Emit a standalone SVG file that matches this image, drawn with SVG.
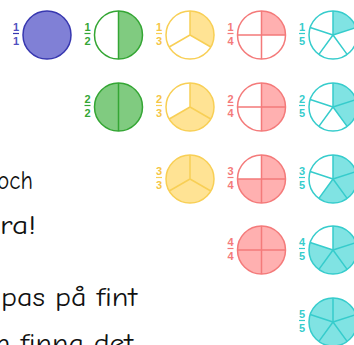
<svg xmlns="http://www.w3.org/2000/svg" width="354" height="345" viewBox="0 0 354 345">
<style>
.bg{fill:#fff}
.ol{fill:none;stroke-width:1.5}
.ln{stroke-width:1.5;fill:none}
.lb{font-family:"Liberation Sans",Arial,sans-serif;font-size:11px;font-weight:bold;text-anchor:middle}
.bar{stroke-width:1.2}
.p .f{fill:#8080d6}.p .ol,.p .ln,.p .bar{stroke:#3737b0}.p .lb{fill:#5050c0}
.g .f{fill:#80cb80}.g .ol,.g .ln,.g .bar{stroke:#34a634}.g .lb{fill:#34a634}
.y .f{fill:#ffe394}.y .ol,.y .ln,.y .bar{stroke:#f8cf55}.y .lb{fill:#f5c545}
.r .f{fill:#ffb0b0}.r .ol,.r .ln,.r .bar{stroke:#f47a7a}.r .lb{fill:#f47a7a}
.c .f{fill:#80e3e3}.c .ol,.c .ln,.c .bar{stroke:#36cccc}.c .lb{fill:#36cccc}
.txt{font-family:"Comic Sans MS","Comic Neue","DejaVu Sans",sans-serif;font-size:27px;fill:#111}
</style>
<g id="connectors"></g>

<!-- Row 1 -->
<g id="n1_1" class="p" transform="translate(47,35)">
<circle class="f" r="24"/><circle class="ol" r="24"/>
<text class="lb" x="-31" y="-4.5">1</text><line class="bar" x1="-34" y1="-1.5" x2="-28" y2="-1.5"/><text class="lb" x="-31" y="9.5">1</text>
</g>
<g id="n1_2" class="g" transform="translate(118.5,35)">
<circle class="bg" r="24"/><path class="f" d="M0,-24A24,24 0 0 1 0,24Z"/>
<path class="ln" d="M0,-24V24"/><circle class="ol" r="24"/>
<text class="lb" x="-31" y="-4.5">1</text><line class="bar" x1="-34" y1="-1.5" x2="-28" y2="-1.5"/><text class="lb" x="-31" y="9.5">2</text>
</g>
<g id="n1_3" class="y" transform="translate(190,35)">
<circle class="bg" r="24"/><path class="f" d="M0,0L0,-24A24,24 0 0 1 20.785,12Z"/>
<path class="ln" d="M0,-24V0L20.785,12M0,0L-20.785,12"/><circle class="ol" r="24"/>
<text class="lb" x="-31" y="-4.5">1</text><line class="bar" x1="-34" y1="-1.5" x2="-28" y2="-1.5"/><text class="lb" x="-31" y="9.5">3</text>
</g>
<g id="n1_4" class="r" transform="translate(261.5,35)">
<circle class="bg" r="24"/><path class="f" d="M0,0L0,-24A24,24 0 0 1 24,0Z"/>
<path class="ln" d="M0,-24V24M-24,0H24"/><circle class="ol" r="24"/>
<text class="lb" x="-31" y="-4.5">1</text><line class="bar" x1="-34" y1="-1.5" x2="-28" y2="-1.5"/><text class="lb" x="-31" y="9.5">4</text>
</g>
<g id="n1_5" class="c" transform="translate(333,35)">
<circle class="bg" r="24"/><path class="f" d="M0,0L0,-24A24,24 0 0 1 22.825,-7.416Z"/>
<path class="ln" d="M0,0L0,-24M0,0L22.825,-7.416M0,0L14.107,19.416M0,0L-14.107,19.416M0,0L-22.825,-7.416"/><circle class="ol" r="24"/>
<text class="lb" x="-31" y="-4.5">1</text><line class="bar" x1="-34" y1="-1.5" x2="-28" y2="-1.5"/><text class="lb" x="-31" y="9.5">5</text>
</g>

<!-- Row 2 -->
<g id="n2_2" class="g" transform="translate(118.5,107)">
<circle class="f" r="24"/>
<path class="ln" d="M0,-24V24"/><circle class="ol" r="24"/>
<text class="lb" x="-31" y="-4.5">2</text><line class="bar" x1="-34" y1="-1.5" x2="-28" y2="-1.5"/><text class="lb" x="-31" y="9.5">2</text>
</g>
<g id="n2_3" class="y" transform="translate(190,107)">
<circle class="bg" r="24"/><path class="f" d="M0,0L0,-24A24,24 0 1 1 -20.785,12Z"/>
<path class="ln" d="M0,-24V0L20.785,12M0,0L-20.785,12"/><circle class="ol" r="24"/>
<text class="lb" x="-31" y="-4.5">2</text><line class="bar" x1="-34" y1="-1.5" x2="-28" y2="-1.5"/><text class="lb" x="-31" y="9.5">3</text>
</g>
<g id="n2_4" class="r" transform="translate(261.5,107)">
<circle class="bg" r="24"/><path class="f" d="M0,-24A24,24 0 0 1 0,24Z"/>
<path class="ln" d="M0,-24V24M-24,0H24"/><circle class="ol" r="24"/>
<text class="lb" x="-31" y="-4.5">2</text><line class="bar" x1="-34" y1="-1.5" x2="-28" y2="-1.5"/><text class="lb" x="-31" y="9.5">4</text>
</g>
<g id="n2_5" class="c" transform="translate(333,107)">
<circle class="bg" r="24"/><path class="f" d="M0,0L0,-24A24,24 0 0 1 14.107,19.416Z"/>
<path class="ln" d="M0,0L0,-24M0,0L22.825,-7.416M0,0L14.107,19.416M0,0L-14.107,19.416M0,0L-22.825,-7.416"/><circle class="ol" r="24"/>
<text class="lb" x="-31" y="-4.5">2</text><line class="bar" x1="-34" y1="-1.5" x2="-28" y2="-1.5"/><text class="lb" x="-31" y="9.5">5</text>
</g>

<!-- Row 3 -->
<g id="n3_3" class="y" transform="translate(190,179)">
<circle class="f" r="24"/>
<path class="ln" d="M0,-24V0L20.785,12M0,0L-20.785,12"/><circle class="ol" r="24"/>
<text class="lb" x="-31" y="-4.5">3</text><line class="bar" x1="-34" y1="-1.5" x2="-28" y2="-1.5"/><text class="lb" x="-31" y="9.5">3</text>
</g>
<g id="n3_4" class="r" transform="translate(261.5,179)">
<circle class="bg" r="24"/><path class="f" d="M0,0L0,-24A24,24 0 1 1 -24,0Z"/>
<path class="ln" d="M0,-24V24M-24,0H24"/><circle class="ol" r="24"/>
<text class="lb" x="-31" y="-4.5">3</text><line class="bar" x1="-34" y1="-1.5" x2="-28" y2="-1.5"/><text class="lb" x="-31" y="9.5">4</text>
</g>
<g id="n3_5" class="c" transform="translate(333,179)">
<circle class="bg" r="24"/><path class="f" d="M0,0L0,-24A24,24 0 1 1 -14.107,19.416Z"/>
<path class="ln" d="M0,0L0,-24M0,0L22.825,-7.416M0,0L14.107,19.416M0,0L-14.107,19.416M0,0L-22.825,-7.416"/><circle class="ol" r="24"/>
<text class="lb" x="-31" y="-4.5">3</text><line class="bar" x1="-34" y1="-1.5" x2="-28" y2="-1.5"/><text class="lb" x="-31" y="9.5">5</text>
</g>

<!-- Row 4 -->
<g id="n4_4" class="r" transform="translate(261.5,250)">
<circle class="f" r="24"/>
<path class="ln" d="M0,-24V24M-24,0H24"/><circle class="ol" r="24"/>
<text class="lb" x="-31" y="-4.5">4</text><line class="bar" x1="-34" y1="-1.5" x2="-28" y2="-1.5"/><text class="lb" x="-31" y="9.5">4</text>
</g>
<g id="n4_5" class="c" transform="translate(333,250)">
<circle class="bg" r="24"/><path class="f" d="M0,0L0,-24A24,24 0 1 1 -22.825,-7.416Z"/>
<path class="ln" d="M0,0L0,-24M0,0L22.825,-7.416M0,0L14.107,19.416M0,0L-14.107,19.416M0,0L-22.825,-7.416"/><circle class="ol" r="24"/>
<text class="lb" x="-31" y="-4.5">4</text><line class="bar" x1="-34" y1="-1.5" x2="-28" y2="-1.5"/><text class="lb" x="-31" y="9.5">5</text>
</g>

<!-- Row 5 -->
<g id="n5_5" class="c" transform="translate(333,322)">
<circle class="f" r="24"/>
<path class="ln" d="M0,0L0,-24M0,0L22.825,-7.416M0,0L14.107,19.416M0,0L-14.107,19.416M0,0L-22.825,-7.416"/><circle class="ol" r="24"/>
<text class="lb" x="-31" y="-4.5">5</text><line class="bar" x1="-34" y1="-1.5" x2="-28" y2="-1.5"/><text class="lb" x="-31" y="9.5">5</text>
</g>

<!-- Left text (clipped at the left edge, as in the reference) -->
<g id="text">
<text class="txt" x="-3" y="189" textLength="36" lengthAdjust="spacingAndGlyphs">och</text>
<text class="txt" x="0" y="234" textLength="36" lengthAdjust="spacingAndGlyphs">ra!</text>
<text class="txt" x="1" y="306" textLength="136" lengthAdjust="spacingAndGlyphs">pas på fint</text>
<text class="txt" x="-6" y="352" textLength="139" lengthAdjust="spacingAndGlyphs">n finna det</text>
</g>
</svg>
